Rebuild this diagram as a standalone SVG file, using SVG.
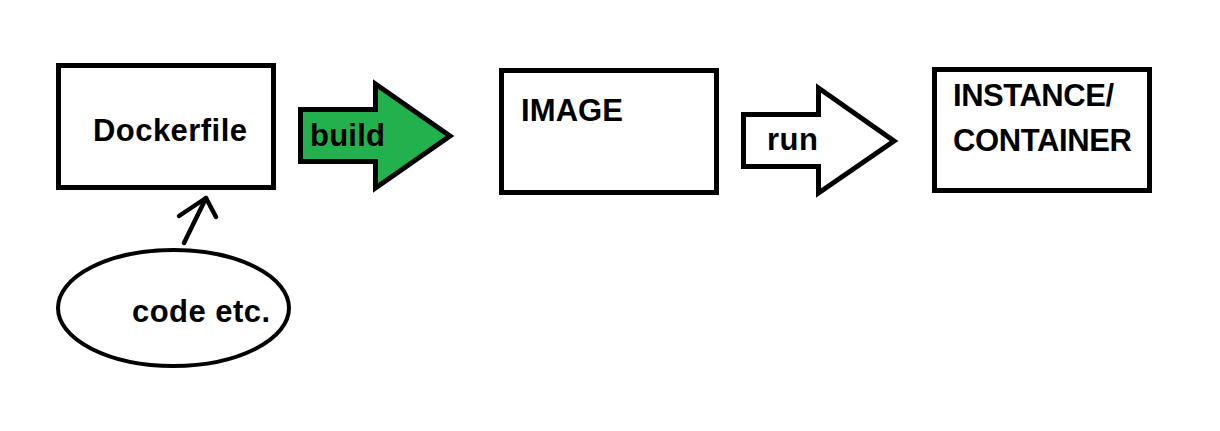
<svg xmlns="http://www.w3.org/2000/svg" width="1220" height="431" viewBox="0 0 1220 431">
<style>
.box{fill:#fff;stroke:#000;stroke-width:5}
.lbl{font-family:"Liberation Sans",Arial,sans-serif;font-weight:bold;font-size:31px;fill:#000}
.arr{stroke:#000;stroke-width:5;stroke-linejoin:miter}
.line{fill:none;stroke:#000;stroke-width:4.5;stroke-linecap:round;stroke-linejoin:round}
</style>
<rect width="1220" height="431" fill="#fff"/>
<g id="dockerfile">
<rect class="box" x="58.5" y="65.5" width="215" height="122"/>
<text class="lbl" x="93" y="141" textLength="154">Dockerfile</text>
</g>
<g id="image">
<rect class="box" x="501.5" y="70.5" width="215" height="122"/>
<text class="lbl" x="521" y="121" textLength="102">IMAGE</text>
</g>
<g id="container">
<rect class="box" x="934.5" y="69.5" width="215" height="121"/>
<text class="lbl" x="953" y="106" textLength="161">INSTANCE/</text>
<text class="lbl" x="953" y="151" textLength="179">CONTAINER</text>
</g>
<g id="code">
<ellipse cx="173.5" cy="308" rx="115.5" ry="58" fill="#fff" stroke="#000" stroke-width="4"/>
<text class="lbl" x="132" y="322" textLength="138">code etc.</text>
</g>
<g id="connectors">
<g id="build-arrow">
<polygon class="arr" fill="#22b14c" points="300.5,109.5 375.5,109.5 375.5,84 450,136 375.5,188 375.5,161.5 300.5,161.5"/>
<text class="lbl" x="310" y="146" textLength="75">build</text>
</g>
<g id="run-arrow">
<polygon class="arr" fill="#fff" points="743.5,114.5 818.5,114.5 818.5,88 894,141 818.5,193 818.5,166.5 743.5,166.5"/>
<text class="lbl" x="767" y="150" textLength="51">run</text>
</g>
<g id="code-arrow">
<path class="line" d="M184,243 L206,198"/>
<path class="line" d="M179,216 L206,198 L216,217"/>
</g>
</g>
</svg>
